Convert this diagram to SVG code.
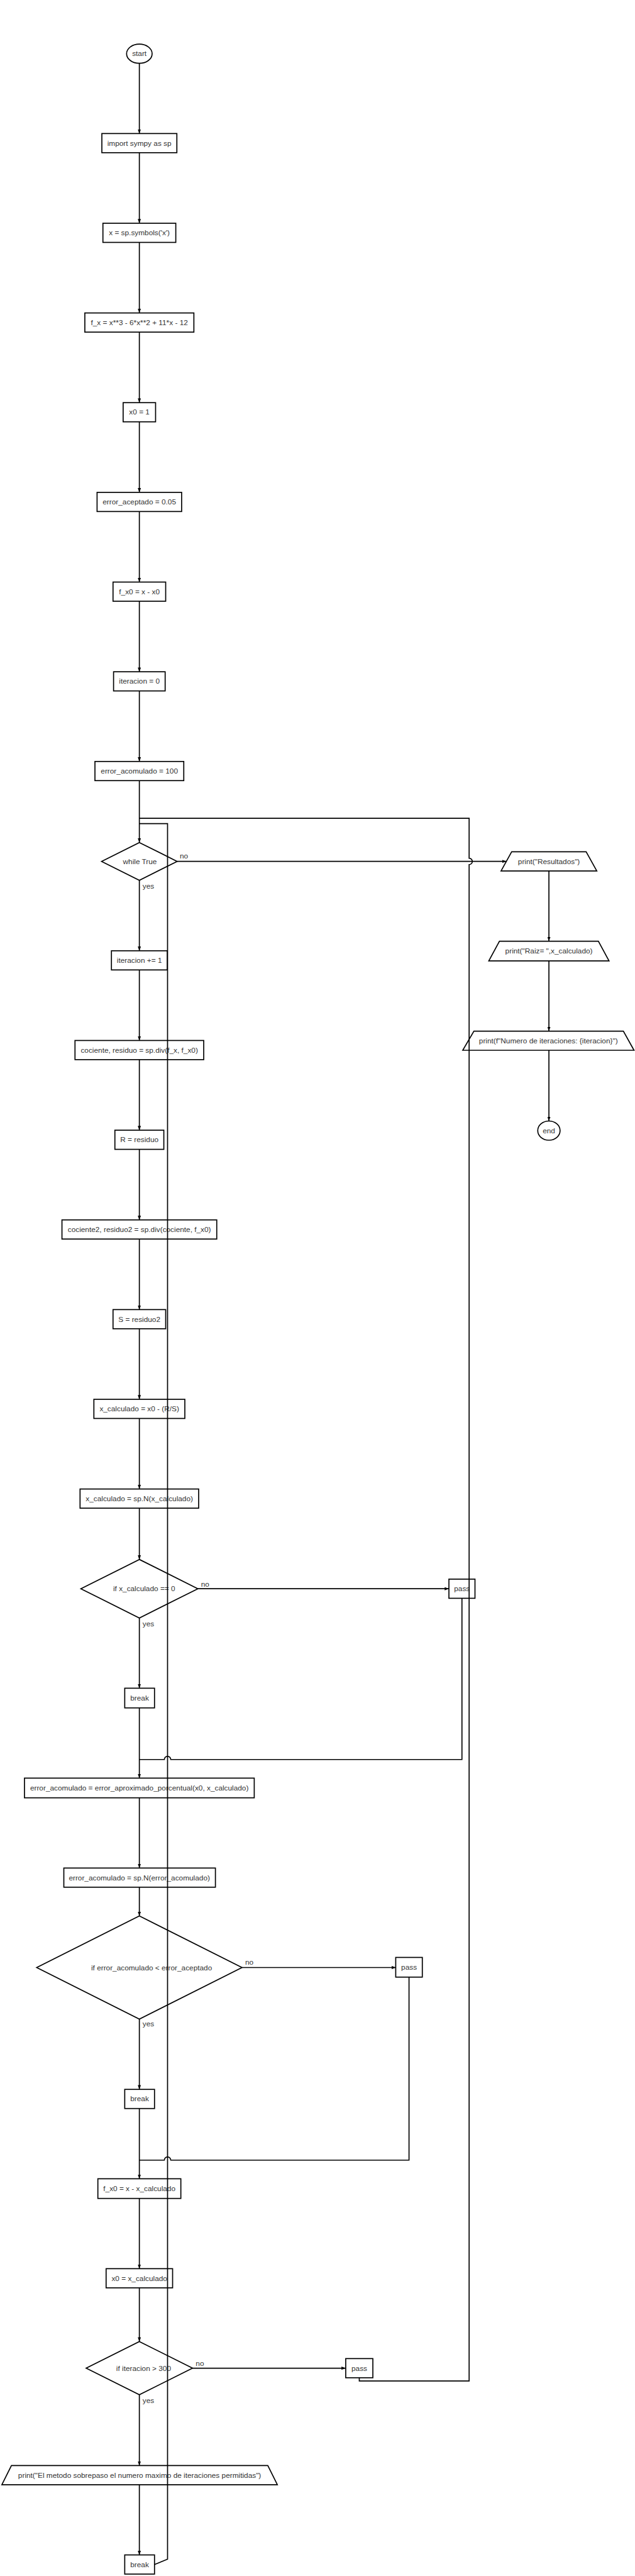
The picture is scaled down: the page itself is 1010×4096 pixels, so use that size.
<svg xmlns="http://www.w3.org/2000/svg" width="1010" height="4096" viewBox="0 0 1010 4096">
<defs>
<marker id="arr" viewBox="0 0 8 6" refX="8" refY="3" markerWidth="8" markerHeight="6" markerUnits="userSpaceOnUse" orient="auto"><path d="M0,0 L8,3 L0,6 z" fill="#000"/></marker>
</defs>
<style>
.n rect,.n ellipse,.n polygon{fill:#fff;stroke:#000;stroke-width:2}
.n text{font-family:"Liberation Sans",Arial,sans-serif;font-size:14px;fill:#333;text-anchor:middle;dominant-baseline:central}
#connectors path{fill:none;stroke:#000;stroke-width:2}
#connectors .a{marker-end:url(#arr)}
.lbl{font-family:"Liberation Sans",Arial,sans-serif;font-size:14px;fill:#333}
</style>
<rect width="1010" height="4096" fill="#fff"/>
<g transform="scale(0.846)">
<g id="n-start" class="n"><ellipse cx="262" cy="101" rx="24" ry="18"/><text x="262" y="101">start</text></g>
<g id="n-import" class="n"><rect x="191.5" y="251" width="141" height="36"/><text x="262" y="269">import sympy as sp</text></g>
<g id="n-symbols" class="n"><rect x="193.5" y="419.6" width="137" height="36"/><text x="262" y="437.6">x = sp.symbols('x')</text></g>
<g id="n-fx" class="n"><rect x="159.5" y="588.2" width="205" height="36"/><text x="262" y="606.2">f_x = x**3 - 6*x**2 + 11*x - 12</text></g>
<g id="n-x0" class="n"><rect x="231.5" y="756.8" width="61" height="36"/><text x="262" y="774.8">x0 = 1</text></g>
<g id="n-erracep" class="n"><rect x="182.5" y="925.4" width="159" height="36"/><text x="262" y="943.4">error_aceptado = 0.05</text></g>
<g id="n-fx0" class="n"><rect x="212.5" y="1094" width="99" height="36"/><text x="262" y="1112">f_x0 = x - x0</text></g>
<g id="n-iter0" class="n"><rect x="213.5" y="1262.6" width="97" height="36"/><text x="262" y="1280.6">iteracion = 0</text></g>
<g id="n-erracum" class="n"><rect x="178.5" y="1431.2" width="167" height="36"/><text x="262" y="1449.2">error_acomulado = 100</text></g>
<g id="n-while" class="n"><polygon points="262,1583.5 333,1619 262,1654.5 191,1619"/><text x="263" y="1619">while True</text></g>
<g id="n-res" class="n"><polygon points="962,1601 1102,1601 1122,1637 942,1637"/><text x="1032" y="1619">print("Resultados")</text></g>
<g id="n-raiz" class="n"><polygon points="939,1769 1125,1769 1145,1806 919,1806"/><text x="1032" y="1787.5">print("Raiz= ",x_calculado)</text></g>
<g id="n-num" class="n"><polygon points="891,1938 1172,1938 1192,1974 870,1974"/><text x="1031" y="1956">print(f"Numero de iteraciones: {iteracion}")</text></g>
<g id="n-end" class="n"><ellipse cx="1032" cy="2125" rx="21" ry="18"/><text x="1032" y="2125">end</text></g>
<g id="n-iterinc" class="n"><rect x="209.5" y="1787" width="105" height="36"/><text x="262" y="1805">iteracion += 1</text></g>
<g id="n-div1" class="n"><rect x="141" y="1955.6" width="242" height="36"/><text x="262" y="1973.6">cociente, residuo = sp.div(f_x, f_x0)</text></g>
<g id="n-r" class="n"><rect x="216" y="2124.2" width="92" height="36"/><text x="262" y="2142.2">R = residuo</text></g>
<g id="n-div2" class="n"><rect x="116.5" y="2292.8" width="291" height="36"/><text x="262" y="2310.8">cociente2, residuo2 = sp.div(cociente, f_x0)</text></g>
<g id="n-s" class="n"><rect x="212.5" y="2461.4" width="99" height="36"/><text x="262" y="2479.4">S = residuo2</text></g>
<g id="n-xcalc" class="n"><rect x="176.5" y="2630" width="171" height="36"/><text x="262" y="2648">x_calculado = x0 - (R/S)</text></g>
<g id="n-xcalcN" class="n"><rect x="150.5" y="2798.6" width="223" height="36"/><text x="262" y="2816.6">x_calculado = sp.N(x_calculado)</text></g>
<g id="n-if1" class="n"><polygon points="262,2931 372,2986 262,3041 152,2986"/><text x="271" y="2986">if x_calculado == 0</text></g>
<g id="n-pass1" class="n"><rect x="844" y="2968" width="49" height="36"/><text x="868.5" y="2986">pass</text></g>
<g id="n-break1" class="n"><rect x="234.5" y="3173" width="56" height="37"/><text x="262.5" y="3191.5">break</text></g>
<g id="n-errap" class="n"><rect x="46" y="3342" width="432" height="37"/><text x="262" y="3360.5">error_acomulado = error_aproximado_porcentual(x0, x_calculado)</text></g>
<g id="n-errN" class="n"><rect x="120" y="3511" width="285" height="36"/><text x="262" y="3529">error_acomulado = sp.N(error_acomulado)</text></g>
<g id="n-if2" class="n"><polygon points="262,3601 455,3698 262,3795 69,3698"/><text x="285" y="3698">if error_acomulado &lt; error_aceptado</text></g>
<g id="n-pass2" class="n"><rect x="744" y="3679" width="50" height="37"/><text x="769" y="3697.5">pass</text></g>
<g id="n-break2" class="n"><rect x="234.5" y="3927" width="56" height="36"/><text x="262.5" y="3945">break</text></g>
<g id="n-fx0b" class="n"><rect x="184" y="4095" width="156" height="37"/><text x="262" y="4113.5">f_x0 = x - x_calculado</text></g>
<g id="n-x0b" class="n"><rect x="199.5" y="4264" width="125" height="36"/><text x="262" y="4282">x0 = x_calculado</text></g>
<g id="n-if3" class="n"><polygon points="262,4401 362,4451 262,4501 162,4451"/><text x="270" y="4451">if iteracion &gt; 300</text></g>
<g id="n-pass3" class="n"><rect x="650" y="4433" width="51" height="36"/><text x="675.5" y="4451">pass</text></g>
<g id="n-metodo" class="n"><polygon points="21.5,4634 503.5,4634 521.5,4670 3.5,4670"/><text x="262.5" y="4652">print("El metodo sobrepaso el numero maximo de iteraciones permitidas")</text></g>
<g id="n-break3" class="n"><rect x="234.5" y="4802" width="56" height="36"/><text x="262.5" y="4820">break</text></g>

<g id="connectors">
<path class="a" d="M262 119 V251"/>
<path class="a" d="M262 287 V419.6"/>
<path class="a" d="M262 455.6 V588.2"/>
<path class="a" d="M262 624.2 V756.8"/>
<path class="a" d="M262 792.8 V925.4"/>
<path class="a" d="M262 961.4 V1094"/>
<path class="a" d="M262 1130 V1262.6"/>
<path class="a" d="M262 1298.6 V1431.2"/>
<path class="a" d="M262 1467.2 V1583.5"/>
<path d="M675.5 4469 V4475 H882 V1625 A6 6 0 0 0 882 1613 V1538 H262"/>
<path d="M290.5 4820 L315 4810 V1548 H262"/>
<path class="a" d="M333 1619 H952"/>
<path class="a" d="M262 1654.5 V1787"/>
<path class="a" d="M1032 1637 V1769"/>
<path class="a" d="M1032 1806 V1938"/>
<path class="a" d="M1032 1974 V2107"/>
<path class="a" d="M262 1823 V1955.6"/>
<path class="a" d="M262 1991.6 V2124.2"/>
<path class="a" d="M262 2160.2 V2292.8"/>
<path class="a" d="M262 2328.8 V2461.4"/>
<path class="a" d="M262 2497.4 V2630"/>
<path class="a" d="M262 2666 V2798.6"/>
<path class="a" d="M262 2834.6 V2931"/>
<path class="a" d="M372 2986 H844"/>
<path class="a" d="M262 3041 V3173"/>
<path class="a" d="M262 3210 V3342"/>
<path d="M868.5 3004 V3307 H321 A6 6 0 0 0 309 3307 H262"/>
<path class="a" d="M262 3379 V3511"/>
<path class="a" d="M262 3547 V3601"/>
<path class="a" d="M455 3698 H744"/>
<path class="a" d="M262 3795 V3927"/>
<path class="a" d="M262 3963 V4095"/>
<path d="M769 3716 V4060 H321 A6 6 0 0 0 309 4060 H262"/>
<path class="a" d="M262 4132 V4264"/>
<path class="a" d="M262 4300 V4401"/>
<path class="a" d="M362 4451 H650"/>
<path class="a" d="M262 4501 V4634"/>
<path class="a" d="M262 4670 V4802"/>
</g>
<g id="labels">
<text class="lbl" x="338" y="1614">no</text>
<text class="lbl" x="268" y="1670">yes</text>
<text class="lbl" x="378" y="2982">no</text>
<text class="lbl" x="268" y="3057">yes</text>
<text class="lbl" x="461" y="3693">no</text>
<text class="lbl" x="268" y="3809">yes</text>
<text class="lbl" x="368" y="4447">no</text>
<text class="lbl" x="268" y="4516">yes</text>
</g>
</g>
</svg>
